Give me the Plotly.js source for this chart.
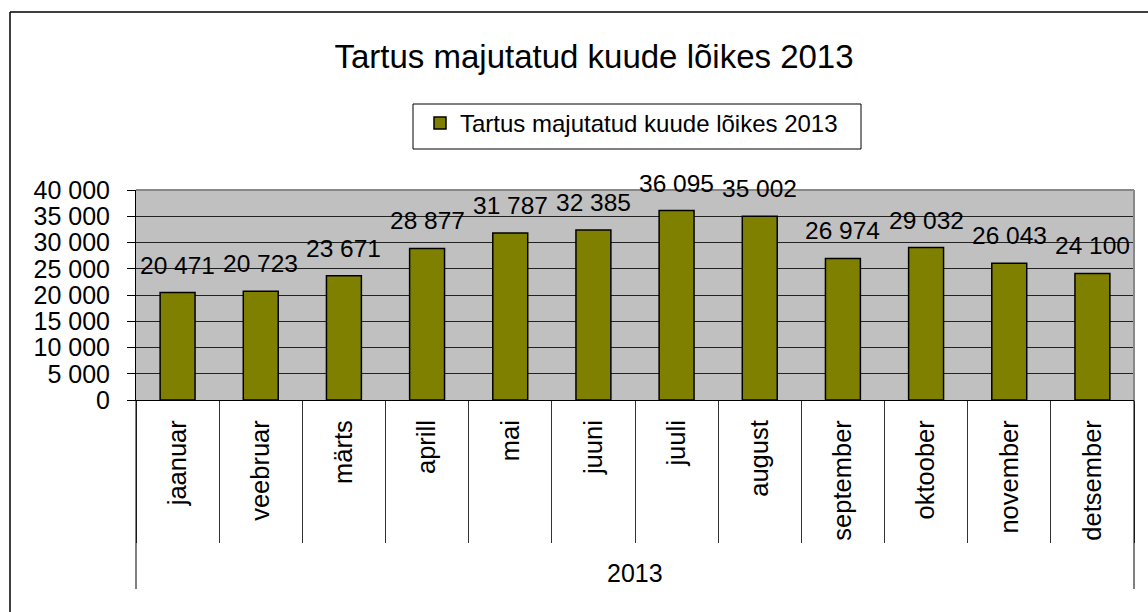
<!DOCTYPE html>
<html>
<head>
<meta charset="utf-8">
<script src="https://cdn.plot.ly/plotly-3.0.1.min.js"></script>
<style>html,body{margin:0;padding:0;background:#fff;}#chart{width:1148px;height:612px;}</style>
</head>
<body>
<div id="chart"></div>
<script>
const chartTitle = 'Tartus majutatud kuude lõikes 2013';
const seriesName = 'Tartus majutatud kuude lõikes 2013';
const groupLabel = '2013';
const months = ['jaanuar','veebruar','märts','aprill','mai','juuni','juuli','august','september','oktoober','november','detsember'];
const values = [20471, 20723, 23671, 28877, 31787, 32385, 36095, 35002, 26974, 29032, 26043, 24100];
const yTicks = [0, 5000, 10000, 15000, 20000, 25000, 30000, 35000, 40000];

function fmt(v) { return String(v).replace(/\B(?=(\d{3})+(?!\d))/g, ' '); }

const FONT = 'Liberation Sans, Arial, sans-serif';
const L = 136, T = 190, W = 998, H = 210;
const px = x => (x - L) / W;
const py = y => (T + H - y) / H;

const trace = {
  type: 'bar',
  x: months,
  y: values,
  name: seriesName,
  marker: { color: '#808000', line: { color: '#000000', width: 1.5 } },
  hoverinfo: 'x+y'
};

const labelAnnots = months.map((m, i) => ({
  x: m, y: values[i], xref: 'x', yref: 'y',
  text: fmt(values[i]), showarrow: false,
  yanchor: 'bottom', xanchor: 'center', yshift: 12,
  font: { family: FONT, size: 24.5, color: '#000' }
}));

const layout = {
  width: 1148, height: 612,
  margin: { l: L, r: 1148 - L - W, t: T, b: 612 - T - H },
  paper_bgcolor: '#ffffff',
  plot_bgcolor: '#c0c0c0',
  separators: '. ',
  font: { family: FONT, color: '#000' },
  bargap: 0.58,
  title: {
    text: chartTitle,
    font: { family: FONT, size: 33, color: '#000' },
    xref: 'container', yref: 'container',
    x: 594 / 1148, xanchor: 'center',
    y: 1 - 56 / 612, yanchor: 'middle'
  },
  showlegend: true,
  legend: {
    x: px(420), y: py(101), xanchor: 'left', yanchor: 'top',
    orientation: 'h',
    bgcolor: 'rgba(0,0,0,0)', borderwidth: 0,
    font: { family: FONT, size: 24, color: '#000' }
  },
  xaxis: {
    type: 'category',
    showgrid: false,
    showline: true, linecolor: '#000', linewidth: 1,
    ticks: 'outside', tickson: 'boundaries', ticklen: 142, tickcolor: '#333', tickwidth: 1,
    tickangle: -90,
    ticklabelstandoff: 9,
    tickfont: { family: FONT, size: 25.5, color: '#000' },
    automargin: false
  },
  yaxis: {
    range: [0, 40000],
    tickvals: yTicks,
    tickformat: ',',
    showgrid: true, gridcolor: '#222', gridwidth: 1,
    zeroline: false,
    showline: true, linecolor: '#000', linewidth: 1,
    ticks: 'outside', ticklen: 8, tickcolor: '#000',
    ticklabelstandoff: 12,
    tickfont: { family: FONT, size: 25, color: '#000' },
    automargin: false
  },
  annotations: labelAnnots.concat([{
    x: 0.5, y: py(573), xref: 'paper', yref: 'paper',
    text: groupLabel, showarrow: false, xanchor: 'center', yanchor: 'middle',
    font: { family: FONT, size: 25, color: '#000' }
  }]),
  shapes: [
    { type: 'rect', xref: 'paper', yref: 'paper', x0: px(413), x1: px(861), y0: py(104), y1: py(149), fillcolor: 'rgba(0,0,0,0)', line: { color: '#000', width: 1 } },
    { type: 'line', xref: 'paper', yref: 'paper', x0: 0, x1: 1, y0: 1, y1: 1, line: { color: '#888', width: 2 } },
    { type: 'line', xref: 'paper', yref: 'paper', x0: 1, x1: 1, y0: 0, y1: 1, line: { color: '#888', width: 2 } },
    { type: 'line', xref: 'paper', yref: 'paper', x0: 0, x1: 0, y0: py(400), y1: py(589), line: { color: '#000', width: 1 } },
    { type: 'line', xref: 'paper', yref: 'paper', x0: 1, x1: 1, y0: py(400), y1: py(589), line: { color: '#000', width: 1 } },
    { type: 'line', xref: 'paper', yref: 'paper', x0: px(10), x1: px(1160), y0: py(12), y1: py(12), line: { color: '#000', width: 1.5 } },
    { type: 'line', xref: 'paper', yref: 'paper', x0: px(10), x1: px(10), y0: py(12), y1: py(620), line: { color: '#000', width: 1.5 } }
  ]
};

Plotly.newPlot('chart', [trace], layout, { displayModeBar: false, staticPlot: true });
</script>
</body>
</html>
